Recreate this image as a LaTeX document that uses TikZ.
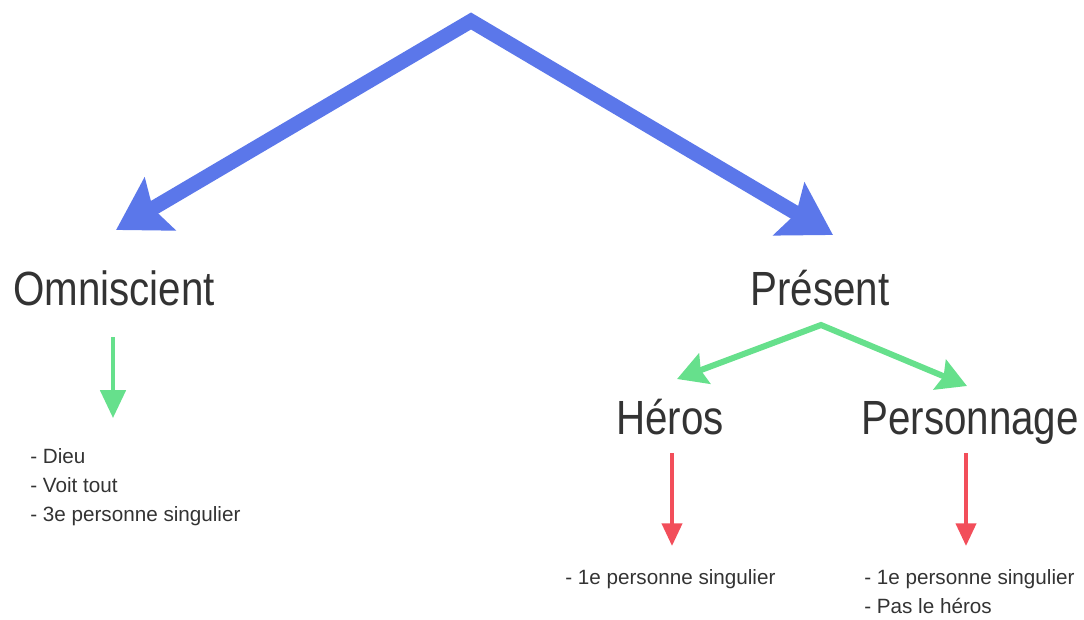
\documentclass[tikz,border=0pt]{standalone}
\usepackage{fontspec}
\setmainfont{Liberation Sans}
\newfontfamily\bigfont[FakeStretch=0.84]{Liberation Sans}
\usetikzlibrary{arrows.meta}
\definecolor{blueA}{HTML}{5B77EA}
\definecolor{greenA}{HTML}{66E08C}
\definecolor{redA}{HTML}{F24E5A}
\definecolor{txt}{HTML}{333333}
\tikzset{
  title/.style={font=\bigfont\fontsize{36pt}{40pt}\selectfont, text=txt, inner sep=0pt, anchor=base},
  listtext/.style={font=\fontsize{15.5pt}{21.75pt}\selectfont, text=txt, inner sep=0pt, anchor=base west, align=left},
  bigarrow/.style={draw=blueA, line width=11pt, line join=miter,
    {Stealth[length=38pt, width=45pt, inset=6pt]}-{Stealth[length=38pt, width=45pt, inset=6pt]}},
  greenarrow/.style={draw=greenA, line width=4.5pt, line join=miter,
    {Stealth[length=22pt, width=24pt, inset=3pt]}-{Stealth[length=22pt, width=24pt, inset=3pt]}},
  downgreen/.style={draw=greenA, line width=3pt, -{Triangle[length=21pt, width=19pt]}},
  downred/.style={draw=redA, line width=3pt, -{Triangle[length=17pt, width=15pt]}},
}
\begin{document}
\begin{tikzpicture}[x=0.75pt, y=-0.75pt]
\useasboundingbox (0,0) rectangle (1084,619);
% titles
\node[title] (omni) at (114,305) {Omniscient};
\node[title] (pres) at (820,305) {Présent};
\node[title] (heros) at (670,434) {Héros};
\node[title] (perso) at (970,434) {Personnage};
% lists (anchor = baseline of the last line)
\node[listtext] (l1) at (30,521) {- Dieu\\- Voit tout\\- 3e personne singulier};
\node[listtext] (l2) at (565,584) {- 1e personne singulier};
\node[listtext] (l3) at (864,613) {- 1e personne singulier\\- Pas le héros};
% blue arrows
\coordinate (apex) at (471,21);
\coordinate (tipL) at (116,230);
\coordinate (tipR) at (833,235);
\draw[bigarrow] (tipL) -- (apex) -- (tipR);
% green from Présent
\coordinate (gapex) at (821,325);
\coordinate (gL) at (677,379);
\coordinate (gR) at (967,386);
\draw[greenarrow] (gL) -- (gapex) -- (gR);
% green down
\coordinate (o1) at (113,337);
\coordinate (o2) at (113,418);
\draw[downgreen] (o1) -- (o2);
% red down
\coordinate (h1) at (672,453);
\coordinate (h2) at (672,546);
\draw[downred] (h1) -- (h2);
\coordinate (p1) at (966,453);
\coordinate (p2) at (966,546);
\draw[downred] (p1) -- (p2);
\end{tikzpicture}
\end{document}
